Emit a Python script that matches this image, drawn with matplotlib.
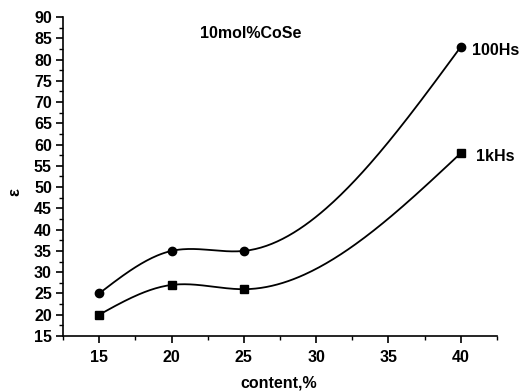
import numpy as np
import matplotlib.pyplot as plt
from matplotlib.ticker import MultipleLocator

plt.rcParams['font.family'] = ['Liberation Sans', 'DejaVu Sans']
plt.rcParams['font.weight'] = 'bold'

content = [15, 20, 25, 40]
eps_100hs = [25, 35, 35, 83]
eps_1khs = [20, 27, 26, 58]


def natural_spline(x, y, n=200):
    # natural cubic spline, used only to draw the smooth line
    x = np.asarray(x, float)
    y = np.asarray(y, float)
    k = len(x)
    h = np.diff(x)
    A = np.zeros((k, k))
    b = np.zeros(k)
    A[0, 0] = A[-1, -1] = 1
    for i in range(1, k - 1):
        A[i, i - 1] = h[i - 1]
        A[i, i] = 2 * (h[i - 1] + h[i])
        A[i, i + 1] = h[i]
        b[i] = 6 * ((y[i + 1] - y[i]) / h[i] - (y[i] - y[i - 1]) / h[i - 1])
    M = np.linalg.solve(A, b)
    xs = np.linspace(x[0], x[-1], n)
    ys = np.empty_like(xs)
    for j, xv in enumerate(xs):
        i = min(np.searchsorted(x, xv, side='right') - 1, k - 2)
        t1 = x[i + 1] - xv
        t0 = xv - x[i]
        ys[j] = (M[i] * t1 ** 3 + M[i + 1] * t0 ** 3) / (6 * h[i]) \
            + (y[i] / h[i] - M[i] * h[i] / 6) * t1 \
            + (y[i + 1] / h[i] - M[i + 1] * h[i] / 6) * t0
    return xs, ys


fig = plt.figure(figsize=(5.19, 3.92), dpi=100)
ax = fig.add_axes([0.1214, 0.1429, 0.8362, 0.8137])

for vals, mk in [(eps_100hs, 'o'), (eps_1khs, 's')]:
    xs, ys = natural_spline(content, vals)
    ax.plot(xs, ys, color='black', lw=1.3)
    ax.plot(content, vals, mk, color='black', ms=6, ls='none')

ax.text(40.75, 82.2, '100Hs', fontsize=11.5, fontweight='bold', va='center', ha='left')
ax.text(41.05, 57.1, '1kHs', fontsize=11.5, fontweight='bold', va='center', ha='left')
ax.text(25.45, 86.2, '10mol%CoSe', fontsize=11.5, fontweight='bold', ha='center', va='center')

ax.set_xlim(12.5, 42.5)
ax.set_ylim(15, 90)
ax.xaxis.set_major_locator(MultipleLocator(5))
ax.xaxis.set_minor_locator(MultipleLocator(2.5))
ax.yaxis.set_major_locator(MultipleLocator(5))
ax.yaxis.set_minor_locator(MultipleLocator(2.5))
ax.set_xticks([15, 20, 25, 30, 35, 40])
ax.spines['top'].set_visible(False)
ax.spines['right'].set_visible(False)
ax.spines['left'].set_linewidth(1.2)
ax.spines['bottom'].set_linewidth(1.2)
ax.tick_params(which='major', direction='out', length=5, width=1.2, labelsize=11.5, pad=3)
ax.tick_params(which='minor', direction='out', length=3, width=1)
ax.tick_params(axis='x', which='major', pad=5)

fig.text(279 / 519, 1 - 383 / 392, 'content,%', fontsize=11.5, fontweight='bold',
         ha='center', va='center')
fig.text(15 / 519, 1 - 192 / 392, 'ε', fontsize=12, fontweight='bold',
         rotation=90, ha='center', va='center')

fig.savefig('out.png', dpi=100)
